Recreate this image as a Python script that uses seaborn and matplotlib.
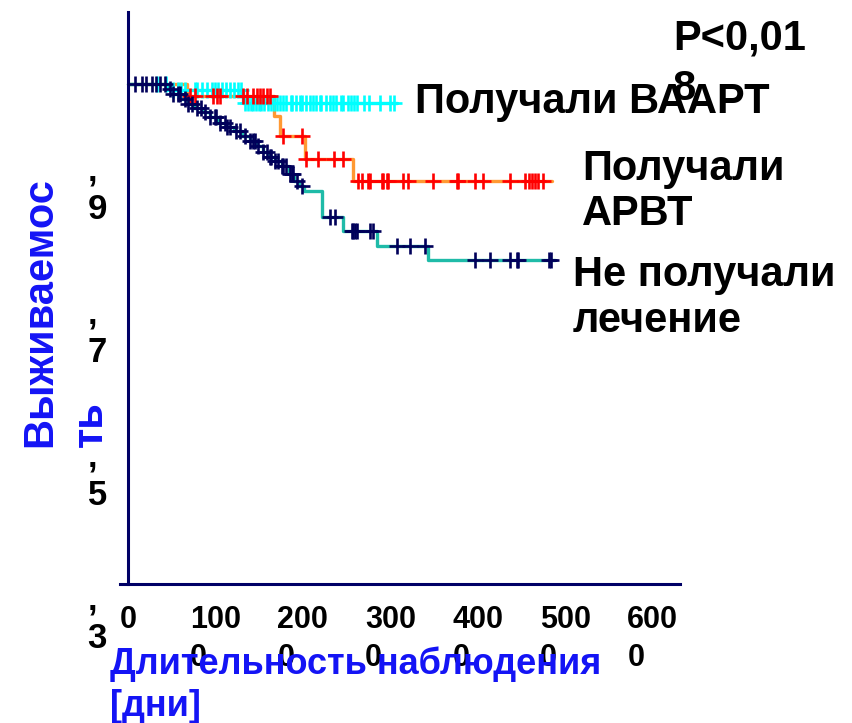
import numpy as np
import pandas as pd
import matplotlib
matplotlib.use("Agg")
import matplotlib.pyplot as plt
import matplotlib.transforms as mtransforms
import seaborn as sns

# -----------------------------
# Данные
# -----------------------------
# Не получали лечение
NT_TIMES = [45, 52, 60, 68, 76, 85, 94, 103, 112, 121, 130, 139, 147, 154, 160,
            168, 176, 184, 190, 196, 201, 222, 246, 285, 343]
NT_SURV = [0.993, 0.986, 0.979, 0.972, 0.966, 0.960, 0.953, 0.945, 0.939, 0.933,
           0.926, 0.920, 0.912, 0.904, 0.897, 0.891, 0.884, 0.874, 0.864, 0.856,
           0.849, 0.813, 0.794, 0.773, 0.753]
NT_END = 488
NT_CENS = [8, 16, 21, 27, 32, 37, 42, 48, 52, 57, 59, 65, 69, 73, 79, 84, 88, 94,
           99, 101, 105, 111, 113, 117, 124, 128, 134, 139, 143, 145, 149, 154,
           159, 162, 164, 168, 172, 176, 177, 181, 185, 187, 189, 193, 199, 231,
           237, 256, 257, 259, 262, 277, 280, 307, 322, 339, 397, 414, 437, 445,
           446, 481, 483]

# Получали АРВТ
ART_TIMES = [67, 167, 174, 202, 257]
ART_SURV = [0.983, 0.955, 0.926, 0.895, 0.863]
ART_END = 485
ART_CENS = [71, 77, 97, 102, 105, 131, 136, 143, 147, 151, 154, 159, 162, 177,
            199, 204, 217, 236, 246, 263, 267, 274, 277, 290, 291, 296, 297, 314,
            320, 349, 376, 377, 397, 406, 437, 454, 458, 462, 465, 469, 474]

# Получали ВААРТ
HA_TIMES = [48, 131]
HA_SURV = [0.991, 0.973]
HA_END = 307
HA_CENS = [33, 44, 52, 57, 61, 65, 77, 79, 85, 90, 96, 99, 103, 107, 112, 117,
           121, 126, 129, 134, 137, 141, 143, 146, 150, 152, 156, 160, 163, 167,
           170, 174, 177, 181, 186, 188, 192, 197, 199, 203, 208, 211, 215, 219,
           221, 226, 231, 234, 238, 243, 246, 251, 255, 258, 262, 270, 276, 288,
           300, 304]

X_TICKS = [0, 100, 200, 300, 400, 500, 600]
X_TICK_LABELS = ["0", "100\n0", "200\n0", "300\n0", "400\n0", "500\n0", "600\n0"]
Y_TICKS = [0.3, 0.5, 0.7, 0.9, 1.1]
Y_TICK_LABELS = [",\n3", ",\n5", ",\n7", ",\n9", ""]

NAVY = "#000066"
BLUE = "#1414F5"

# -----------------------------
# Вспомогательное
# -----------------------------
def step_frame(times, surv, end):
    t = [0] + list(times) + [end]
    s = [1.0] + list(surv) + [surv[-1]]
    return pd.DataFrame({"t": t, "s": s})

def cens_frame(times, surv, cens):
    idx = np.searchsorted(times, cens, side="right")
    s_all = np.r_[1.0, surv]
    return pd.DataFrame({"t": cens, "s": s_all[idx]})

# -----------------------------
# Рисунок
# -----------------------------
sns.set_style("white")
plt.rcParams["font.family"] = ["Liberation Sans", "DejaVu Sans"]
plt.rcParams["font.weight"] = "bold"
plt.rcParams["text.color"] = "black"
plt.rcParams["xtick.labelcolor"] = "black"
plt.rcParams["ytick.labelcolor"] = "black"

W, H = 853, 723
fig = plt.figure(figsize=(W / 100, H / 100), dpi=100)
ax = fig.add_axes([120 / W, 1 - 584 / H, 560 / W, 572 / H])

groups = [
    (HA_TIMES, HA_SURV, HA_END, HA_CENS, "#00F0F0", "#00FFFF"),
    (ART_TIMES, ART_SURV, ART_END, ART_CENS, "#FF9933", "#FF0000"),
    (NT_TIMES, NT_SURV, NT_END, NT_CENS, "#1FBBA8", "#00005A"),
]
for times, surv, end, cens, lc, mc in groups:
    sns.lineplot(data=step_frame(times, surv, end), x="t", y="s", ax=ax,
                 drawstyle="steps-post", color=lc, lw=2.4, estimator=None)
    sns.scatterplot(data=cens_frame(times, surv, cens), x="t", y="s", ax=ax,
                    marker="+", s=120, color=mc, linewidth=1.9, zorder=3)

ax.set_xlim(-9, 631)
ax.set_ylim(0.3, 1.1)
ax.spines["left"].set_position(("data", 0))
for side in ["top", "right"]:
    ax.spines[side].set_visible(False)
for side in ["left", "bottom"]:
    ax.spines[side].set_color(NAVY)
    ax.spines[side].set_linewidth(2.2)
ax.tick_params(axis="both", direction="out", length=6, width=2.2, color=NAVY)
ax.tick_params(axis="x", pad=9, labelsize=22)
ax.tick_params(axis="y", pad=9, labelsize=25)
ax.set_xticks(X_TICKS, X_TICK_LABELS)
ax.set_yticks(Y_TICKS, Y_TICK_LABELS)
ax.set_xlabel("")
ax.set_ylabel("")
for lab in ax.get_xticklabels():
    lab.set_multialignment("left")
    lab.set_fontweight("bold")
    lab.set_linespacing(1.35)
shift = mtransforms.ScaledTranslation(0, -0.64, fig.dpi_scale_trans)
for lab in ax.get_yticklabels():
    lab.set_multialignment("left")
    lab.set_fontweight("bold")
    lab.set_verticalalignment("baseline")
    lab.set_transform(lab.get_transform() + shift)

# подписи осей
fig.text(91 / W, 1 - 447 / H, "Выживаемос\nть", rotation=90,
         rotation_mode="anchor", ha="left", va="baseline", color=BLUE,
         fontsize=30, fontweight="bold", multialignment="left", linespacing=1.35)
fig.text(110 / W, 1 - 716 / H, "Длительность наблюдения\n[дни]", ha="left",
         va="baseline", color=BLUE, fontsize=26, fontweight="bold",
         multialignment="left", linespacing=1.25)

# надписи у кривых
fig.text(673 / W, 1 - 100 / H, "P<0,01\n8", ha="left", va="baseline",
         fontsize=30, fontweight="bold", linespacing=1.35)
fig.text(415 / W, 1 - 113 / H, "Получали ВААРТ", ha="left", va="baseline",
         fontsize=30, fontweight="bold")
fig.text(582 / W, 1 - 225 / H, "Получали\nАРВТ", ha="left", va="baseline",
         fontsize=30, fontweight="bold", linespacing=1.15)
fig.text(573 / W, 1 - 332 / H, "Не получали\nлечение", ha="left", va="baseline",
         fontsize=30, fontweight="bold", linespacing=1.2)

fig.savefig("out.png", dpi=100)
